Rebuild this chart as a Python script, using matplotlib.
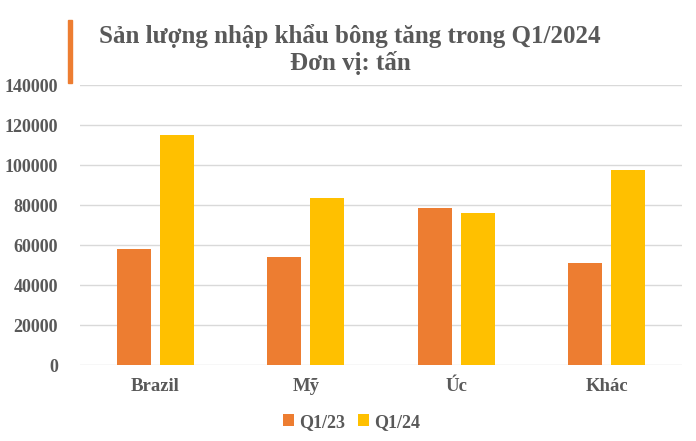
import matplotlib
matplotlib.use("Agg")
import matplotlib.pyplot as plt
import numpy as np
from matplotlib.patches import Rectangle

# data
categories = ["Brazil", "Mỹ", "Úc", "Khác"]
q1_23 = [58000, 54000, 78500, 51000]
q1_24 = [115000, 83500, 76000, 97500]
series_names = ["Q1/23", "Q1/24"]
yticks = [0, 20000, 40000, 60000, 80000, 100000, 120000, 140000]

plt.rcParams['font.family'] = ['Liberation Serif', 'DejaVu Serif']
gray = '#595959'

fig = plt.figure(figsize=(6.96, 4.41), dpi=100)
ax = fig.add_axes([0.115, 0.172, 0.865, 0.635])

x = np.arange(len(categories))
w = 0.226
off = 0.143
ax.bar(x - off, q1_23, w, color='#ED7D31', label=series_names[0], zorder=3)
ax.bar(x + off, q1_24, w, color='#FFC000', label=series_names[1], zorder=3)

ax.set_xlim(-0.5, len(categories) - 0.5)
ax.set_ylim(0, 140000)
ax.set_yticks(yticks)
ax.set_yticklabels([str(v) for v in yticks])
ax.set_xticks(x)
ax.set_xticklabels(categories)
ax.grid(axis='y', color='#D9D9D9', linewidth=1, zorder=0)
for s in ax.spines.values():
    s.set_visible(False)
ax.tick_params(length=0)
ax.tick_params(axis='y', pad=16)
ax.tick_params(axis='x', pad=9)
for lab in ax.get_yticklabels():
    lab.set_fontsize(13)
    lab.set_fontweight('bold')
    lab.set_color(gray)
for lab in ax.get_xticklabels():
    lab.set_fontsize(13.5)
    lab.set_fontweight('bold')
    lab.set_color(gray)

leg = fig.legend(loc='center', bbox_to_anchor=(0.505, 0.043), ncol=2, frameon=False,
                 handlelength=0.6, handleheight=0.6, handletextpad=0.3, columnspacing=0.7,
                 prop={'family': 'Liberation Serif', 'weight': 'bold', 'size': 13})
for t in leg.get_texts():
    t.set_color(gray)

fig.text(0.503, 0.888, "Sản lượng nhập khẩu bông tăng trong Q1/2024\nĐơn vị: tấn",
         ha='center', va='center', fontsize=18, fontweight='bold', color=gray,
         linespacing=1.15)
fig.patches.append(Rectangle((0.098, 0.812), 0.006, 0.143, transform=fig.transFigure,
                             color='#ED7D31', zorder=5))

fig.savefig("out.png", dpi=100)
